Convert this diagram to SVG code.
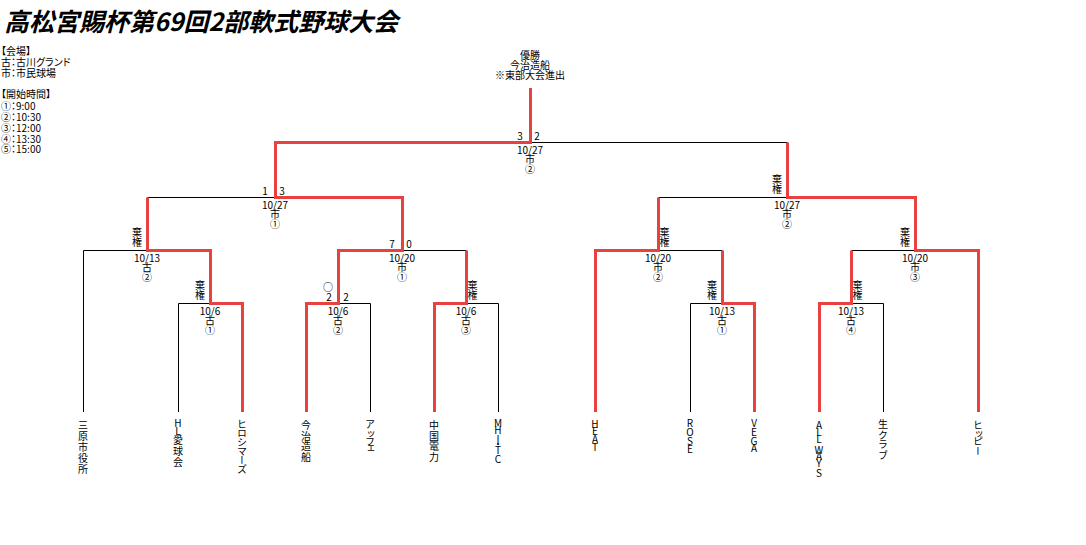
<svg xmlns="http://www.w3.org/2000/svg" width="1086" height="545" viewBox="0 0 1086 545">
<style>
text{font-family:"Noto Sans CJK JP","Liberation Sans",sans-serif;font-size:10px;fill:#000}
.title{font-size:25px;font-weight:bold;font-style:italic}
.legend{font-feature-settings:"palt"}
.c{text-anchor:middle}
.team{writing-mode:vertical-rl;text-orientation:upright}
.ln{stroke:#000;stroke-width:1;fill:none}
.win{stroke:#e8413f;stroke-width:3;fill:none;stroke-linejoin:miter;stroke-linecap:butt}
</style>
<rect width="1086" height="545" fill="#fff"/>
<text class="title" x="4" y="31">高松宮賜杯第69回2部軟式野球大会</text>
<g id="legend" class="legend">
<text x="1" y="55">【会場】</text>
<text x="1" y="66">古：古川グランド</text>
<text x="1" y="76.5">市：市民球場</text>
<text x="1" y="98">【開始時間】</text>
<text x="1" y="110">①：9:00</text>
<text x="1" y="121">②：10:30</text>
<text x="1" y="131.5">③：12:00</text>
<text x="1" y="142.5">④：13:30</text>
<text x="1" y="153">⑤：15:00</text>
</g>
<g id="connectors">
<path class="ln" d="M530.5 142.5H787.5 M147.5 197.5H275.5 M658.5 197.5H787.5 M83.5 250.5H147.5 M83.5 250.5V412 M178.5 303.5H210.5 M178.5 303.5V412 M402.5 250.5H466.5 M338.5 303.5H370.5 M370.5 303.5V412 M466.5 303.5H498.5 M498.5 303.5V412 M658.5 250.5H722.5 M690.5 303.5H722.5 M690.5 303.5V412 M851.5 250.5H915.5 M851.5 303.5H883.5 M883.5 303.5V412"/>
<polyline class="win" points="306.5,412 306.5,303.5 338.5,303.5 338.5,250.5 402.5,250.5 402.5,197.5 275.5,197.5 275.5,142.5 530.5,142.5 530.5,88"/>
<polyline class="win" points="242.5,412 242.5,303.5 210.5,303.5 210.5,250.5 147.5,250.5 147.5,197.5"/>
<polyline class="win" points="434.5,412 434.5,303.5 466.5,303.5 466.5,250.5"/>
<polyline class="win" points="595.5,412 595.5,250.5 658.5,250.5 658.5,197.5"/>
<polyline class="win" points="754.5,412 754.5,303.5 722.5,303.5 722.5,250.5"/>
<polyline class="win" points="978.5,412 978.5,250.5 915.5,250.5 915.5,197.5 787.5,197.5 787.5,142.5"/>
<polyline class="win" points="819.5,412 819.5,303.5 851.5,303.5 851.5,250.5"/>
</g>
<g id="champion" class="c">
<text x="530" y="59">優勝</text>
<text x="530" y="69">今治造船</text>
<text x="530" y="79">※東部大会進出</text>
</g>
<g id="final" class="c">
<text x="520" y="139.5">3</text><text x="537" y="139.5">2</text>
<text x="530" y="153.5">10/27</text><text x="530" y="163">市</text><text x="530" y="172.5">②</text>
</g>
<g id="sf1" class="c">
<text x="265" y="194.5">1</text><text x="282" y="194.5">3</text>
<text x="275" y="208.5">10/27</text><text x="275" y="218">市</text><text x="275" y="227.5">①</text>
</g>
<g id="sf2" class="c">
<text x="777 777" y="183.3 193.3">棄権</text>
<text x="787" y="208.5">10/27</text><text x="787" y="218">市</text><text x="787" y="227.5">②</text>
</g>
<g id="qf1" class="c">
<text x="137 137" y="236.3 246.3">棄権</text>
<text x="147" y="261.5">10/13</text><text x="147" y="271">古</text><text x="147" y="280.5">②</text>
</g>
<g id="qf2" class="c">
<text x="392" y="247.5">7</text><text x="409" y="247.5">0</text>
<text x="402" y="261.5">10/20</text><text x="402" y="271">市</text><text x="402" y="280.5">①</text>
</g>
<g id="qf3" class="c">
<text x="664.5 664.5" y="236.3 246.3">棄権</text>
<text x="658" y="261.5">10/20</text><text x="658" y="271">市</text><text x="658" y="280.5">②</text>
</g>
<g id="qf4" class="c">
<text x="905 905" y="236.3 246.3">棄権</text>
<text x="915" y="261.5">10/20</text><text x="915" y="271">市</text><text x="915" y="280.5">③</text>
</g>
<g id="r1a" class="c">
<text x="200 200" y="289.3 299.3">棄権</text>
<text x="210" y="314.5">10/6</text><text x="210" y="324">古</text><text x="210" y="333.5">①</text>
</g>
<g id="r1b" class="c">
<text x="328" y="291">○</text>
<text x="329" y="300.5">2</text><text x="346" y="300.5">2</text>
<text x="338" y="314.5">10/6</text><text x="338" y="324">古</text><text x="338" y="333.5">②</text>
</g>
<g id="r1c" class="c">
<text x="472.5 472.5" y="289.3 299.3">棄権</text>
<text x="466" y="314.5">10/6</text><text x="466" y="324">古</text><text x="466" y="333.5">③</text>
</g>
<g id="r1d" class="c">
<text x="712 712" y="289.3 299.3">棄権</text>
<text x="722" y="314.5">10/13</text><text x="722" y="324">古</text><text x="722" y="333.5">①</text>
</g>
<g id="r1e" class="c">
<text x="857.5 857.5" y="289.3 299.3">棄権</text>
<text x="851" y="314.5">10/13</text><text x="851" y="324">古</text><text x="851" y="333.5">④</text>
</g>
<g id="team-mihara"><text class="team" x="83" y="420 431 442 453 464">三原市役所</text></g>
<g id="team-hl"><text class="team" x="178" y="418.5 426.5 435.5 446 457">HL愛球会</text></g>
<g id="team-hiroshimars"><text class="team" x="242" y="419 428 437 446 455 464">ヒロシマーズ</text></g>
<g id="team-imabari"><text class="team" x="306" y="420 431 441.5 452.5">今治造船</text></g>
<g id="team-affe"><text class="team" x="370" y="419.5 429.5 436.5 443">アッフェ</text></g>
<g id="team-chugoku"><text class="team" x="434" y="420 431 441.5 452.5">中国電力</text></g>
<g id="team-mhitc"><text class="team" x="498" y="418.5 425.5 434.5 439 445 454.5">MHI・TC</text></g>
<g id="team-heat"><text class="team" x="595" y="419 426.7 434.4 442">HEAT</text></g>
<g id="team-rose"><text class="team" x="690" y="418.5 427 436 444.5">ROSE</text></g>
<g id="team-vega"><text class="team" x="754" y="418.5 427 436 443.5">VEGA</text></g>
<g id="team-allways"><text class="team" x="819" y="420 427.5 434.5 440 445 451 458.5 468.5">ALL WAYS</text></g>
<g id="team-nama"><text class="team" x="883" y="419.5 430.5 439.5 450">生クラブ</text></g>
<g id="team-hippie"><text class="team" x="978" y="420 429 436 446">ヒッピー</text></g>
</svg>
